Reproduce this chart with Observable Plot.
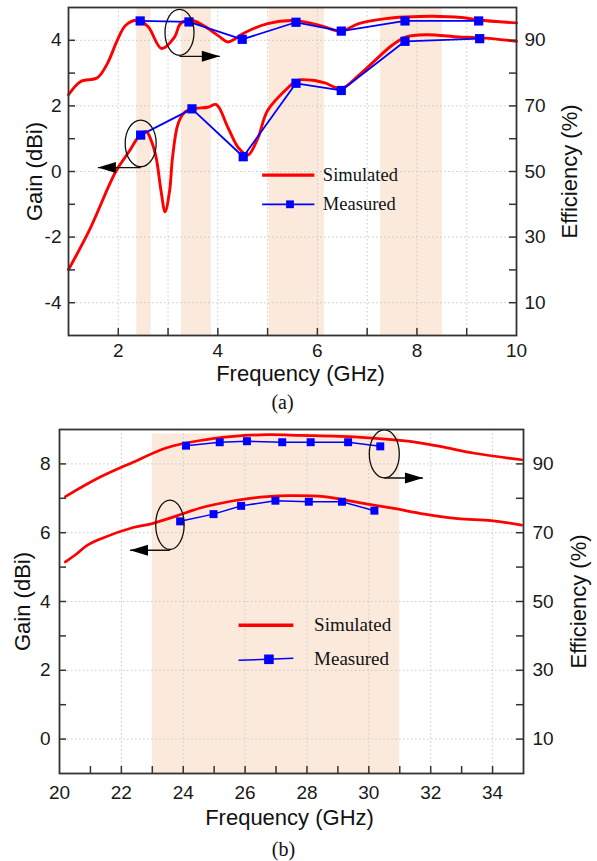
<!DOCTYPE html>
<html>
<head>
<meta charset="utf-8">
<script src="https://cdn.jsdelivr.net/npm/d3@7"></script>
<script src="https://cdn.jsdelivr.net/npm/@observablehq/plot@0.6"></script>
<style>
  body { margin: 0; background: #fff; }
  #chart svg { display: block; }
</style>
</head>
<body>
<div id="chart"></div>
<script>
// ---------- Panel (a): 1–10 GHz ----------
const bandsA = [[2.37, 2.66], [3.27, 3.87], [5.03, 6.14], [7.27, 8.51]];

const simGainFreqA = [1.0, 1.41, 1.95, 2.2, 2.45, 2.56, 2.66, 2.76, 2.86, 2.94, 3.03, 3.09, 3.2, 3.33, 3.5, 3.8, 3.97, 4.2, 4.41, 4.6, 4.8, 5.0, 5.42, 5.6, 5.9, 6.15, 6.48, 6.83, 7.16, 7.5, 7.77, 8.18, 8.85, 9.24, 10.0];
const simGainA     = [-2.99, -1.82, 0.0, 0.57, 1.14, 1.22, 0.95, 0.43, -0.6, -1.23, -0.6, 0.43, 1.45, 1.8, 1.91, 1.96, 2.04, 1.35, 0.73, 0.5, 1.0, 1.86, 2.57, 2.78, 2.78, 2.7, 2.53, 2.93, 3.39, 3.85, 4.1, 4.17, 4.1, 4.08, 3.97];

const simEffFreqA = [1.0, 1.24, 1.58, 1.78, 1.98, 2.15, 2.39, 2.6, 2.87, 3.13, 3.25, 3.46, 3.7, 4.0, 4.2, 4.35, 4.5, 5.0, 5.57, 6.1, 6.48, 6.83, 7.37, 7.77, 8.3, 8.9, 9.24, 10.0];
const simEffA     = [73.4, 77.4, 78.6, 82.9, 90.0, 94.6, 96.1, 94.1, 87.5, 91.0, 95.1, 96.1, 94.6, 91.5, 89.5, 90.5, 92.0, 95.1, 96.0, 94.3, 92.8, 95.1, 96.6, 97.1, 97.35, 96.95, 96.2, 95.3];

const measGainFreqA = [2.45, 3.48, 4.51, 5.57, 6.48, 7.76, 9.26];
const measGainA     = [1.11, 1.91, 0.45, 2.69, 2.47, 3.97, 4.05];
const measEffFreqA  = [2.44, 3.42, 4.49, 5.57, 6.48, 7.76, 9.24];
const measEffA      = [95.9, 95.6, 90.3, 95.5, 92.8, 95.9, 95.9];

const gainTicksA = [-4, -2, 0, 2, 4];
const effTicksA  = [10, 30, 50, 70, 90];
const freqTicksA = [2, 4, 6, 8, 10];

// ---------- Panel (b): 20–35 GHz ----------
const bandsB = [[23, 31]];

const simGainFreqB = [20.19, 20.55, 20.87, 21.3, 22.38, 22.93, 23.79, 24.55, 25.63, 26.71, 27.47, 28.55, 29.64, 30.72, 31.8, 32.88, 33.96, 34.94];
const simGainB     = [5.15, 5.38, 5.62, 5.81, 6.15, 6.25, 6.49, 6.72, 6.93, 7.05, 7.08, 7.05, 6.88, 6.72, 6.54, 6.41, 6.35, 6.22];

const simEffFreqB = [20.19, 21.3, 22.38, 23.47, 24.55, 25.63, 26.71, 27.79, 29.64, 31.26, 32.34, 33.42, 34.94];
const simEffB     = [80.5, 86.1, 90.5, 94.7, 96.8, 98.0, 98.5, 98.3, 97.8, 96.6, 95.0, 93.1, 91.2];

const measGainFreqB = [23.9, 24.98, 25.87, 26.98, 28.06, 29.13, 30.18];
const measGainB     = [6.33, 6.54, 6.78, 6.93, 6.90, 6.90, 6.64];
const measEffFreqB  = [24.09, 25.18, 26.06, 27.2, 28.12, 29.33, 30.37];
const measEffB      = [95.3, 96.3, 96.6, 96.3, 96.3, 96.3, 95.1];

const gainTicksB = [0, 2, 4, 6, 8];
const effTicksB  = [10, 30, 50, 70, 90];
const freqTicksB = [20, 22, 24, 26, 28, 30, 32, 34];

const legendLabels = ["Simulated", "Measured"];

// ---------- helpers ----------
const zipXY = (xs, ys) => xs.map((x, i) => ({x, y: ys[i]}));

// open ellipse drawn as a dot symbol (rx, ry in pixels)
function ellipseSymbol(rx, ry) {
  const k = 0.5523;
  return {
    draw(ctx) {
      ctx.moveTo(rx, 0);
      ctx.bezierCurveTo(rx, ry * k, rx * k, ry, 0, ry);
      ctx.bezierCurveTo(-rx * k, ry, -rx, ry * k, -rx, 0);
      ctx.bezierCurveTo(-rx, -ry * k, -rx * k, -ry, 0, -ry);
      ctx.bezierCurveTo(rx * k, -ry, rx, -ry * k, rx, 0);
      ctx.closePath();
    }
  };
}
// filled arrow head with its tip at the anchor point
function arrowHead(dir) {
  return {
    draw(ctx) {
      ctx.moveTo(0, 0);
      ctx.lineTo(-18 * dir, -5.5);
      ctx.lineTo(-18 * dir, 5.5);
      ctx.closePath();
    }
  };
}

function panel(cfg) {
  const {W, H, mt, mr, mb, ml} = cfg.layout;
  const fw = W - ml - mr, fh = H - mt - mb;
  const g = cfg.effToGain, e = cfg.gainToEff;
  const simGain = zipXY(cfg.simGainFreq, cfg.simGain);
  const simEff = zipXY(cfg.simEffFreq, cfg.simEff);
  const measGain = zipXY(cfg.measGainFreq, cfg.measGain);
  const measEff = zipXY(cfg.measEffFreq, cfg.measEff);
  const tickColor = "#333";
  const sans = "Liberation Sans, Arial, sans-serif";
  const serif = "Liberation Serif, Times New Roman, serif";
  const lg = cfg.legend;
  const title = {fontSize: 22, fill: "#111", textAnchor: "middle", lineAnchor: "middle"};

  return Plot.plot({
    width: W, height: H,
    marginTop: mt, marginRight: mr, marginBottom: mb, marginLeft: ml,
    style: {fontFamily: sans, fontSize: "19px", color: "#1a1a1a", background: "white"},
    x: {domain: cfg.xDomain, axis: null},
    y: {domain: cfg.yDomain, axis: null},
    marks: [
      Plot.rect(cfg.bands, {x1: d => d[0], x2: d => d[1], y1: cfg.bandY[0], y2: cfg.bandY[1], fill: "#fbeadc"}),
      Plot.ruleX(cfg.gridX, {stroke: "#c4c4c4", strokeWidth: 0.9, strokeDasharray: "1.5,2.5"}),
      Plot.ruleY(cfg.gainTicks, {stroke: "#c4c4c4", strokeWidth: 0.9, strokeDasharray: "1.5,2.5"}),

      // simulated curves
      Plot.line(simEff, {x: "x", y: d => g(d.y), stroke: "#ff0000", strokeWidth: cfg.simWidth, curve: "catmull-rom"}),
      Plot.line(simGain, {x: "x", y: "y", stroke: "#ff0000", strokeWidth: cfg.simWidth, curve: "catmull-rom"}),
      // measured curves
      Plot.line(measEff, {x: "x", y: d => g(d.y), stroke: "#0000ff", strokeWidth: cfg.measWidth}),
      Plot.line(measGain, {x: "x", y: "y", stroke: "#0000ff", strokeWidth: cfg.measWidth}),
      Plot.dot(measEff, {x: "x", y: d => g(d.y), symbol: "square", r: cfg.markerR, fill: "#0000ff"}),
      Plot.dot(measGain, {x: "x", y: "y", symbol: "square", r: cfg.markerR, fill: "#0000ff"}),

      // axis-side annotations (ellipse + arrow)
      ...cfg.notes.flatMap(n => [
        Plot.dot([n], {x: "cx", y: "cy", symbol: ellipseSymbol(n.rx, n.ry), fill: "none", stroke: "#111", strokeWidth: 1.3}),
        Plot.link([n], {x1: "cx", y1: "ay", x2: "ax", y2: "ay", stroke: "#111", strokeWidth: 1.3}),
        Plot.dot([n], {x: "ax", y: "ay", symbol: arrowHead(n.dir), fill: "#000", stroke: "none"})
      ]),

      // legend
      Plot.link([lg], {x1: "x1", x2: "x2", y1: "ySim", y2: "ySim", stroke: "#ff0000", strokeWidth: 3.3}),
      Plot.link([lg], {x1: "x1", x2: "x2", y1: "yMeas1", y2: "yMeas2", stroke: "#0000ff", strokeWidth: cfg.measWidth}),
      Plot.dot([lg], {x: "xm", y: d => (d.yMeas1 + d.yMeas2) / 2, symbol: "square", r: lg.r, fill: "#0000ff"}),
      Plot.text([lg], {x: "xt", y: "ySim", text: () => legendLabels[0], textAnchor: "start", fontFamily: serif, fontSize: lg.fs, fill: "#111"}),
      Plot.text([lg], {x: "xt", y: d => (d.yMeas1 + d.yMeas2) / 2, text: () => legendLabels[1], textAnchor: "start", fontFamily: serif, fontSize: lg.fs, fill: "#111"}),

      // inward tick marks: left, right, bottom
      Plot.ruleY(cfg.minorY, {insetRight: fw - 7, stroke: tickColor, strokeWidth: 1.5}),
      Plot.ruleY(cfg.minorY, {insetLeft: fw - 7, stroke: tickColor, strokeWidth: 1.5}),
      Plot.ruleX(cfg.minorX, {insetTop: fh - 7, stroke: tickColor, strokeWidth: 1.5}),
      Plot.frame({stroke: tickColor, strokeWidth: 1.8}),

      // tick labels
      Plot.axisY(cfg.gainTicks, {anchor: "left", tickSize: 0, tickPadding: cfg.padL, label: null, tickFormat: d => String(d), fontSize: 19}),
      Plot.axisY(cfg.effTicks.map(g), {anchor: "right", tickSize: 0, tickPadding: cfg.padR, label: null, tickFormat: d => String(Math.round(e(d))), fontSize: 19}),
      Plot.axisX(cfg.freqTicks, {anchor: "bottom", tickSize: 0, tickPadding: cfg.padB, label: null, tickFormat: d => String(d), fontSize: 19}),

      // axis titles and panel tag
      Plot.text(["Gain (dBi)"], {...title, frameAnchor: "left", dx: cfg.titleL, rotate: -90}),
      Plot.text(["Efficiency (%)"], {...title, frameAnchor: "right", dx: cfg.titleR, rotate: -90}),
      Plot.text(["Frequency (GHz)"], {...title, frameAnchor: "bottom", dx: cfg.titleB[0], dy: cfg.titleB[1]}),
      Plot.text([cfg.tag], {...title, frameAnchor: "bottom", dx: cfg.tagPos[0], dy: cfg.tagPos[1], fontSize: 20, fontFamily: serif})
    ]
  });
}

const range = (a, b) => d3.range(a, b + 1);

const chartA = panel({
  layout: {W: 597, H: 420, mt: 7, mr: 81, mb: 85, ml: 68},
  xDomain: [1, 10], yDomain: [-5, 5],
  effToGain: v => (v - 50) / 10, gainToEff: v => v * 10 + 50,
  bands: bandsA, bandY: [-5, 5],
  gridX: range(2, 9),
  gainTicks: gainTicksA, effTicks: effTicksA, freqTicks: freqTicksA,
  minorY: range(-4, 4), minorX: range(2, 9),
  simGainFreq: simGainFreqA, simGain: simGainA, simEffFreq: simEffFreqA, simEff: simEffA,
  measGainFreq: measGainFreqA, measGain: measGainA, measEffFreq: measEffFreqA, measEff: measEffA,
  simWidth: 2.9, measWidth: 1.8, markerR: 5.2,
  notes: [
    {cx: 3.23, cy: 4.24, rx: 14.5, ry: 23, ax: 4.04, ay: 3.51, dir: 1},
    {cx: 2.45, cy: 0.855, rx: 15.5, ry: 23.3, ax: 1.59, ay: 0.12, dir: -1}
  ],
  legend: {x1: 4.89, x2: 5.94, xm: 5.45, xt: 6.11, ySim: -0.11, yMeas1: -1.0, yMeas2: -1.0, r: 4.4, fs: 18.5},
  padL: 7, padR: 8, padB: 8,
  titleL: -34, titleR: 53, titleB: [8, 38], tag: "(a)", tagPos: [-10, 67]
});

const chartB = panel({
  layout: {W: 597, H: 441, mt: 9, mr: 74, mb: 88, ml: 59},
  xDomain: [20, 35], yDomain: [-1, 9],
  effToGain: v => (v - 10) / 10, gainToEff: v => v * 10 + 10,
  bands: bandsB, bandY: [-1, 8.87],
  gridX: d3.range(22, 35, 2),
  gainTicks: gainTicksB, effTicks: effTicksB, freqTicks: freqTicksB,
  minorY: range(0, 8), minorX: range(21, 34),
  simGainFreq: simGainFreqB, simGain: simGainB, simEffFreq: simEffFreqB, simEff: simEffB,
  measGainFreq: measGainFreqB, measGain: measGainB, measEffFreq: measEffFreqB, measEff: measEffB,
  simWidth: 2.7, measWidth: 1.5, markerR: 4.5,
  notes: [
    {cx: 23.57, cy: 6.23, rx: 14.2, ry: 24.7, ax: 22.28, ay: 5.49, dir: -1},
    {cx: 30.5, cy: 8.29, rx: 15, ry: 24, ax: 31.75, ay: 7.59, dir: 1}
  ],
  legend: {x1: 25.79, x2: 27.56, xm: 26.77, xt: 28.23, ySim: 3.31, yMeas1: 2.29, yMeas2: 2.35, r: 5.4, fs: 19},
  padL: 9, padR: 9, padB: 12,
  titleL: -37, titleR: 55, titleB: [-2, 44], tag: "(b)", tagPos: [-8, 76]
});

document.getElementById("chart").append(chartA, chartB);
</script>
</body>
</html>
